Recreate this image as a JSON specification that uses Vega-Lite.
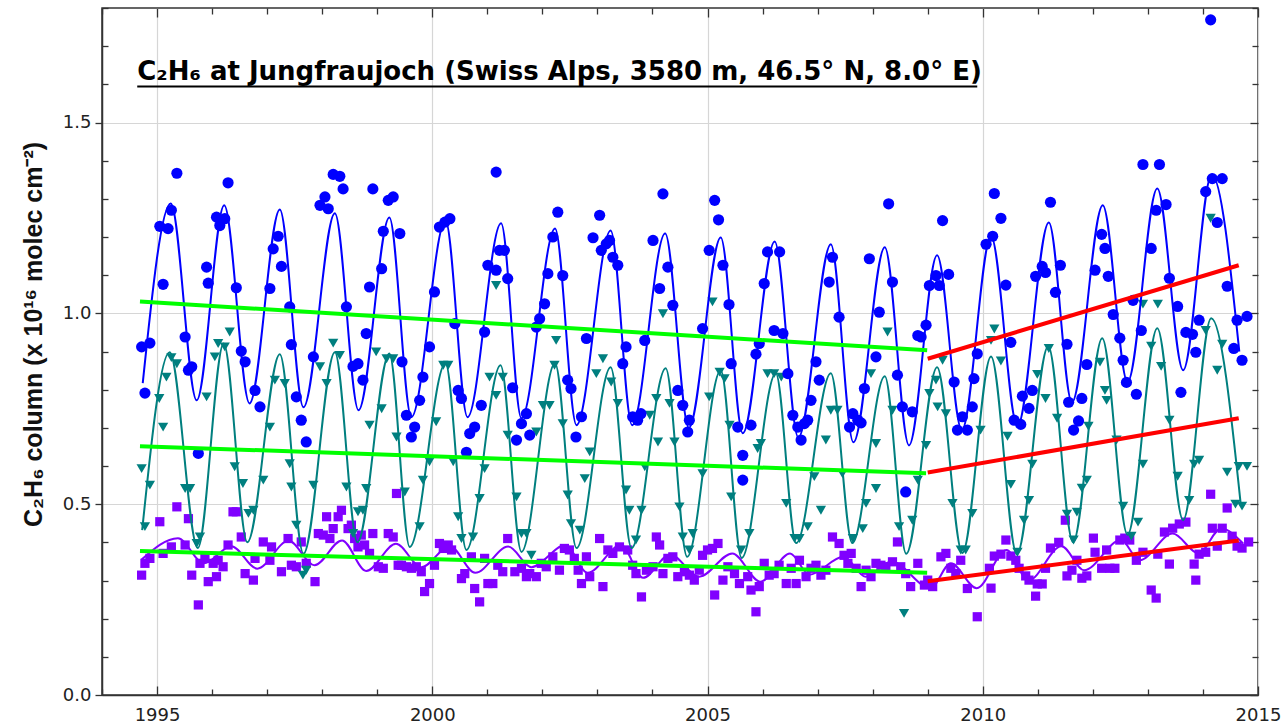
{
  "$schema": "https://vega.github.io/schema/vega-lite/v6.json",
  "width": 1156,
  "height": 687,
  "autosize": "none",
  "padding": {"left": 102, "top": 8, "right": 27, "bottom": 33},
  "background": "white",
  "config": {
    "view": {"stroke": "#333333", "strokeWidth": 1.5},
    "axis": {"labelFont": "DejaVu Sans", "labelFontSize": 18, "labelColor": "#222222", "tickColor": "#333333", "tickWidth": 1.3}
  },
  "datasets": {
    "points": [
      {"series":"Upper","year":1994.72,"value":0.314},{"series":"Upper","year":1994.78,"value":0.345},{"series":"Upper","year":1994.87,"value":0.358},{"series":"Upper","year":1995.05,"value":0.454},{"series":"Upper","year":1995.11,"value":0.371},{"series":"Upper","year":1995.26,"value":0.388},{"series":"Upper","year":1995.36,"value":0.493},{"series":"Upper","year":1995.51,"value":0.393},{"series":"Upper","year":1995.57,"value":0.462},{"series":"Upper","year":1995.63,"value":0.314},{"series":"Upper","year":1995.75,"value":0.236},{"series":"Upper","year":1995.78,"value":0.345},{"series":"Upper","year":1995.87,"value":0.358},{"series":"Upper","year":1995.93,"value":0.297},{"series":"Upper","year":1996.02,"value":0.345},{"series":"Upper","year":1996.08,"value":0.310},{"series":"Upper","year":1996.11,"value":0.353},{"series":"Upper","year":1996.20,"value":0.336},{"series":"Upper","year":1996.29,"value":0.393},{"series":"Upper","year":1996.38,"value":0.480},{"series":"Upper","year":1996.44,"value":0.480},{"series":"Upper","year":1996.53,"value":0.414},{"series":"Upper","year":1996.60,"value":0.318},{"series":"Upper","year":1996.75,"value":0.301},{"series":"Upper","year":1996.78,"value":0.358},{"series":"Upper","year":1996.93,"value":0.401},{"series":"Upper","year":1997.05,"value":0.353},{"series":"Upper","year":1997.08,"value":0.388},{"series":"Upper","year":1997.26,"value":0.323},{"series":"Upper","year":1997.38,"value":0.410},{"series":"Upper","year":1997.44,"value":0.340},{"series":"Upper","year":1997.53,"value":0.336},{"series":"Upper","year":1997.62,"value":0.401},{"series":"Upper","year":1997.71,"value":0.345},{"series":"Upper","year":1997.87,"value":0.297},{"series":"Upper","year":1997.93,"value":0.423},{"series":"Upper","year":1998.02,"value":0.419},{"series":"Upper","year":1998.08,"value":0.467},{"series":"Upper","year":1998.14,"value":0.410},{"series":"Upper","year":1998.20,"value":0.436},{"series":"Upper","year":1998.29,"value":0.467},{"series":"Upper","year":1998.35,"value":0.484},{"series":"Upper","year":1998.47,"value":0.436},{"series":"Upper","year":1998.53,"value":0.445},{"series":"Upper","year":1998.59,"value":0.410},{"series":"Upper","year":1998.65,"value":0.388},{"series":"Upper","year":1998.71,"value":0.419},{"series":"Upper","year":1998.77,"value":0.393},{"series":"Upper","year":1998.86,"value":0.371},{"series":"Upper","year":1998.92,"value":0.423},{"series":"Upper","year":1999.02,"value":0.336},{"series":"Upper","year":1999.11,"value":0.332},{"series":"Upper","year":1999.20,"value":0.423},{"series":"Upper","year":1999.29,"value":0.414},{"series":"Upper","year":1999.35,"value":0.528},{"series":"Upper","year":1999.38,"value":0.340},{"series":"Upper","year":1999.44,"value":0.340},{"series":"Upper","year":1999.53,"value":0.336},{"series":"Upper","year":1999.62,"value":0.332},{"series":"Upper","year":1999.71,"value":0.336},{"series":"Upper","year":1999.80,"value":0.323},{"series":"Upper","year":1999.86,"value":0.271},{"series":"Upper","year":1999.95,"value":0.292},{"series":"Upper","year":2000.04,"value":0.340},{"series":"Upper","year":2000.13,"value":0.397},{"series":"Upper","year":2000.20,"value":0.384},{"series":"Upper","year":2000.29,"value":0.393},{"series":"Upper","year":2000.35,"value":0.380},{"series":"Upper","year":2000.53,"value":0.305},{"series":"Upper","year":2000.59,"value":0.318},{"series":"Upper","year":2000.71,"value":0.362},{"series":"Upper","year":2000.77,"value":0.279},{"series":"Upper","year":2000.86,"value":0.244},{"series":"Upper","year":2000.95,"value":0.358},{"series":"Upper","year":2001.01,"value":0.292},{"series":"Upper","year":2001.10,"value":0.292},{"series":"Upper","year":2001.19,"value":0.340},{"series":"Upper","year":2001.28,"value":0.323},{"series":"Upper","year":2001.37,"value":0.410},{"series":"Upper","year":2001.50,"value":0.323},{"series":"Upper","year":2001.62,"value":0.332},{"series":"Upper","year":2001.71,"value":0.310},{"series":"Upper","year":2001.77,"value":0.318},{"series":"Upper","year":2001.89,"value":0.310},{"series":"Upper","year":2001.98,"value":0.345},{"series":"Upper","year":2002.07,"value":0.336},{"series":"Upper","year":2002.19,"value":0.362},{"series":"Upper","year":2002.31,"value":0.327},{"series":"Upper","year":2002.40,"value":0.384},{"series":"Upper","year":2002.49,"value":0.380},{"series":"Upper","year":2002.58,"value":0.358},{"series":"Upper","year":2002.65,"value":0.327},{"series":"Upper","year":2002.71,"value":0.292},{"series":"Upper","year":2002.80,"value":0.362},{"series":"Upper","year":2002.86,"value":0.310},{"series":"Upper","year":2003.04,"value":0.410},{"series":"Upper","year":2003.10,"value":0.284},{"series":"Upper","year":2003.19,"value":0.380},{"series":"Upper","year":2003.28,"value":0.371},{"series":"Upper","year":2003.40,"value":0.388},{"series":"Upper","year":2003.55,"value":0.380},{"series":"Upper","year":2003.64,"value":0.340},{"series":"Upper","year":2003.70,"value":0.318},{"series":"Upper","year":2003.80,"value":0.257},{"series":"Upper","year":2003.89,"value":0.327},{"series":"Upper","year":2004.01,"value":0.336},{"series":"Upper","year":2004.07,"value":0.414},{"series":"Upper","year":2004.13,"value":0.393},{"series":"Upper","year":2004.19,"value":0.318},{"series":"Upper","year":2004.28,"value":0.358},{"series":"Upper","year":2004.37,"value":0.362},{"series":"Upper","year":2004.46,"value":0.310},{"series":"Upper","year":2004.58,"value":0.323},{"series":"Upper","year":2004.67,"value":0.314},{"series":"Upper","year":2004.76,"value":0.301},{"series":"Upper","year":2004.85,"value":0.327},{"series":"Upper","year":2004.91,"value":0.366},{"series":"Upper","year":2005.00,"value":0.380},{"series":"Upper","year":2005.09,"value":0.384},{"series":"Upper","year":2005.13,"value":0.262},{"series":"Upper","year":2005.19,"value":0.397},{"series":"Upper","year":2005.28,"value":0.301},{"series":"Upper","year":2005.37,"value":0.336},{"series":"Upper","year":2005.49,"value":0.318},{"series":"Upper","year":2005.58,"value":0.292},{"series":"Upper","year":2005.73,"value":0.310},{"series":"Upper","year":2005.79,"value":0.275},{"series":"Upper","year":2005.88,"value":0.218},{"series":"Upper","year":2005.94,"value":0.284},{"series":"Upper","year":2006.03,"value":0.345},{"series":"Upper","year":2006.12,"value":0.314},{"series":"Upper","year":2006.21,"value":0.318},{"series":"Upper","year":2006.30,"value":0.340},{"series":"Upper","year":2006.43,"value":0.292},{"series":"Upper","year":2006.52,"value":0.332},{"series":"Upper","year":2006.61,"value":0.292},{"series":"Upper","year":2006.67,"value":0.353},{"series":"Upper","year":2006.79,"value":0.310},{"series":"Upper","year":2006.88,"value":0.332},{"series":"Upper","year":2006.97,"value":0.340},{"series":"Upper","year":2007.06,"value":0.314},{"series":"Upper","year":2007.15,"value":0.327},{"series":"Upper","year":2007.27,"value":0.414},{"series":"Upper","year":2007.39,"value":0.397},{"series":"Upper","year":2007.48,"value":0.366},{"series":"Upper","year":2007.55,"value":0.345},{"series":"Upper","year":2007.61,"value":0.371},{"series":"Upper","year":2007.70,"value":0.332},{"series":"Upper","year":2007.79,"value":0.284},{"series":"Upper","year":2007.88,"value":0.327},{"series":"Upper","year":2007.97,"value":0.310},{"series":"Upper","year":2008.06,"value":0.345},{"series":"Upper","year":2008.15,"value":0.340},{"series":"Upper","year":2008.24,"value":0.336},{"series":"Upper","year":2008.36,"value":0.349},{"series":"Upper","year":2008.45,"value":0.401},{"series":"Upper","year":2008.51,"value":0.336},{"series":"Upper","year":2008.60,"value":0.318},{"series":"Upper","year":2008.69,"value":0.284},{"series":"Upper","year":2008.82,"value":0.345},{"series":"Upper","year":2008.94,"value":0.288},{"series":"Upper","year":2009.00,"value":0.301},{"series":"Upper","year":2009.09,"value":0.284},{"series":"Upper","year":2009.24,"value":0.362},{"series":"Upper","year":2009.33,"value":0.371},{"series":"Upper","year":2009.42,"value":0.332},{"series":"Upper","year":2009.51,"value":0.318},{"series":"Upper","year":2009.60,"value":0.353},{"series":"Upper","year":2009.72,"value":0.279},{"series":"Upper","year":2009.90,"value":0.205},{"series":"Upper","year":2010.12,"value":0.332},{"series":"Upper","year":2010.15,"value":0.280},{"series":"Upper","year":2010.21,"value":0.364},{"series":"Upper","year":2010.33,"value":0.369},{"series":"Upper","year":2010.42,"value":0.406},{"series":"Upper","year":2010.51,"value":0.364},{"series":"Upper","year":2010.60,"value":0.353},{"series":"Upper","year":2010.66,"value":0.332},{"series":"Upper","year":2010.78,"value":0.312},{"series":"Upper","year":2010.84,"value":0.301},{"series":"Upper","year":2010.96,"value":0.259},{"series":"Upper","year":2010.99,"value":0.291},{"series":"Upper","year":2011.08,"value":0.291},{"series":"Upper","year":2011.14,"value":0.332},{"series":"Upper","year":2011.23,"value":0.385},{"series":"Upper","year":2011.38,"value":0.400},{"series":"Upper","year":2011.50,"value":0.458},{"series":"Upper","year":2011.53,"value":0.312},{"series":"Upper","year":2011.62,"value":0.327},{"series":"Upper","year":2011.71,"value":0.353},{"series":"Upper","year":2011.80,"value":0.306},{"series":"Upper","year":2011.89,"value":0.312},{"series":"Upper","year":2012.01,"value":0.411},{"series":"Upper","year":2012.04,"value":0.374},{"series":"Upper","year":2012.16,"value":0.332},{"series":"Upper","year":2012.25,"value":0.380},{"series":"Upper","year":2012.31,"value":0.332},{"series":"Upper","year":2012.40,"value":0.332},{"series":"Upper","year":2012.49,"value":0.406},{"series":"Upper","year":2012.58,"value":0.411},{"series":"Upper","year":2012.67,"value":0.406},{"series":"Upper","year":2012.79,"value":0.353},{"series":"Upper","year":2012.91,"value":0.374},{"series":"Upper","year":2013.06,"value":0.275},{"series":"Upper","year":2013.15,"value":0.254},{"series":"Upper","year":2013.18,"value":0.369},{"series":"Upper","year":2013.30,"value":0.427},{"series":"Upper","year":2013.39,"value":0.343},{"series":"Upper","year":2013.45,"value":0.437},{"series":"Upper","year":2013.57,"value":0.448},{"series":"Upper","year":2013.69,"value":0.453},{"series":"Upper","year":2013.84,"value":0.343},{"series":"Upper","year":2013.87,"value":0.301},{"series":"Upper","year":2013.93,"value":0.369},{"series":"Upper","year":2014.05,"value":0.374},{"series":"Upper","year":2014.14,"value":0.526},{"series":"Upper","year":2014.17,"value":0.437},{"series":"Upper","year":2014.26,"value":0.390},{"series":"Upper","year":2014.35,"value":0.437},{"series":"Upper","year":2014.44,"value":0.490},{"series":"Upper","year":2014.53,"value":0.416},{"series":"Upper","year":2014.62,"value":0.390},{"series":"Upper","year":2014.71,"value":0.385},{"series":"Upper","year":2014.83,"value":0.401},
      {"series":"Lower","year":1994.72,"value":0.593},{"series":"Lower","year":1994.87,"value":0.550},{"series":"Lower","year":1994.78,"value":0.441},{"series":"Lower","year":1995.04,"value":0.777},{"series":"Lower","year":1995.11,"value":0.702},{"series":"Lower","year":1995.17,"value":0.833},{"series":"Lower","year":1995.26,"value":0.884},{"series":"Lower","year":1995.36,"value":0.868},{"series":"Lower","year":1995.51,"value":0.541},{"series":"Lower","year":1995.60,"value":0.541},{"series":"Lower","year":1995.72,"value":0.397},{"series":"Lower","year":1995.78,"value":0.414},{"series":"Lower","year":1995.90,"value":0.781},{"series":"Lower","year":1996.05,"value":0.886},{"series":"Lower","year":1996.11,"value":0.921},{"series":"Lower","year":1996.23,"value":0.912},{"series":"Lower","year":1996.32,"value":0.951},{"series":"Lower","year":1996.41,"value":0.598},{"series":"Lower","year":1996.56,"value":0.554},{"series":"Lower","year":1996.66,"value":0.476},{"series":"Lower","year":1996.75,"value":0.484},{"series":"Lower","year":1996.93,"value":0.563},{"series":"Lower","year":1997.05,"value":0.702},{"series":"Lower","year":1997.14,"value":0.825},{"series":"Lower","year":1997.32,"value":0.816},{"series":"Lower","year":1997.41,"value":0.606},{"series":"Lower","year":1997.44,"value":0.545},{"series":"Lower","year":1997.53,"value":0.445},{"series":"Lower","year":1997.65,"value":0.314},{"series":"Lower","year":1997.71,"value":0.327},{"series":"Lower","year":1997.84,"value":0.550},{"series":"Lower","year":1997.96,"value":0.860},{"series":"Lower","year":1998.08,"value":0.816},{"series":"Lower","year":1998.20,"value":0.922},{"series":"Lower","year":1998.32,"value":0.890},{"series":"Lower","year":1998.44,"value":0.545},{"series":"Lower","year":1998.56,"value":0.423},{"series":"Lower","year":1998.65,"value":0.480},{"series":"Lower","year":1998.74,"value":0.484},{"series":"Lower","year":1998.80,"value":0.541},{"series":"Lower","year":1998.86,"value":0.707},{"series":"Lower","year":1998.98,"value":0.899},{"series":"Lower","year":1999.08,"value":0.750},{"series":"Lower","year":1999.17,"value":0.881},{"series":"Lower","year":1999.29,"value":0.881},{"series":"Lower","year":1999.35,"value":0.676},{"series":"Lower","year":1999.50,"value":0.532},{"series":"Lower","year":1999.77,"value":0.441},{"series":"Lower","year":1999.83,"value":0.563},{"series":"Lower","year":1999.95,"value":0.611},{"series":"Lower","year":2000.07,"value":0.716},{"series":"Lower","year":2000.20,"value":0.864},{"series":"Lower","year":2000.29,"value":0.864},{"series":"Lower","year":2000.38,"value":0.611},{"series":"Lower","year":2000.47,"value":0.467},{"series":"Lower","year":2000.53,"value":0.410},{"series":"Lower","year":2000.74,"value":0.414},{"series":"Lower","year":2000.86,"value":0.515},{"series":"Lower","year":2000.95,"value":0.593},{"series":"Lower","year":2001.04,"value":0.833},{"series":"Lower","year":2001.16,"value":0.785},{"series":"Lower","year":2001.16,"value":1.073},{"series":"Lower","year":2001.28,"value":0.833},{"series":"Lower","year":2001.37,"value":0.681},{"series":"Lower","year":2001.53,"value":0.519},{"series":"Lower","year":2001.62,"value":0.423},{"series":"Lower","year":2001.71,"value":0.423},{"series":"Lower","year":2001.80,"value":0.366},{"series":"Lower","year":2001.89,"value":0.689},{"series":"Lower","year":2002.01,"value":0.759},{"series":"Lower","year":2002.13,"value":0.759},{"series":"Lower","year":2002.22,"value":0.864},{"series":"Lower","year":2002.25,"value":0.929},{"series":"Lower","year":2002.37,"value":0.711},{"series":"Lower","year":2002.46,"value":0.524},{"series":"Lower","year":2002.52,"value":0.449},{"series":"Lower","year":2002.68,"value":0.432},{"series":"Lower","year":2002.77,"value":0.567},{"series":"Lower","year":2002.86,"value":0.637},{"series":"Lower","year":2002.98,"value":0.842},{"series":"Lower","year":2003.10,"value":0.881},{"series":"Lower","year":2003.25,"value":0.820},{"series":"Lower","year":2003.37,"value":0.764},{"series":"Lower","year":2003.52,"value":0.537},{"series":"Lower","year":2003.58,"value":0.484},{"series":"Lower","year":2003.70,"value":0.406},{"series":"Lower","year":2003.80,"value":0.484},{"series":"Lower","year":2003.86,"value":0.598},{"series":"Lower","year":2003.95,"value":0.733},{"series":"Lower","year":2004.07,"value":0.777},{"series":"Lower","year":2004.10,"value":0.663},{"series":"Lower","year":2004.19,"value":0.999},{"series":"Lower","year":2004.31,"value":0.764},{"series":"Lower","year":2004.40,"value":0.663},{"series":"Lower","year":2004.49,"value":0.493},{"series":"Lower","year":2004.55,"value":0.414},{"series":"Lower","year":2004.67,"value":0.380},{"series":"Lower","year":2004.73,"value":0.423},{"series":"Lower","year":2004.91,"value":0.580},{"series":"Lower","year":2005.03,"value":0.781},{"series":"Lower","year":2005.09,"value":1.030},{"series":"Lower","year":2005.22,"value":0.846},{"series":"Lower","year":2005.31,"value":0.829},{"series":"Lower","year":2005.40,"value":0.707},{"series":"Lower","year":2005.43,"value":0.519},{"series":"Lower","year":2005.61,"value":0.380},{"series":"Lower","year":2005.76,"value":0.423},{"series":"Lower","year":2005.91,"value":0.646},{"series":"Lower","year":2005.97,"value":0.659},{"series":"Lower","year":2006.09,"value":0.842},{"series":"Lower","year":2006.21,"value":0.842},{"series":"Lower","year":2006.34,"value":0.833},{"series":"Lower","year":2006.43,"value":0.502},{"series":"Lower","year":2006.58,"value":0.410},{"series":"Lower","year":2006.67,"value":0.410},{"series":"Lower","year":2006.82,"value":0.441},{"series":"Lower","year":2006.94,"value":0.572},{"series":"Lower","year":2007.06,"value":0.484},{"series":"Lower","year":2007.15,"value":0.668},{"series":"Lower","year":2007.24,"value":0.746},{"series":"Lower","year":2007.36,"value":0.746},{"series":"Lower","year":2007.45,"value":0.580},{"series":"Lower","year":2007.64,"value":0.410},{"series":"Lower","year":2007.82,"value":0.436},{"series":"Lower","year":2007.88,"value":0.502},{"series":"Lower","year":2007.97,"value":0.842},{"series":"Lower","year":2008.06,"value":0.659},{"series":"Lower","year":2008.06,"value":0.541},{"series":"Lower","year":2008.27,"value":0.951},{"series":"Lower","year":2008.36,"value":0.746},{"series":"Lower","year":2008.48,"value":0.441},{"series":"Lower","year":2008.57,"value":0.214},{"series":"Lower","year":2008.72,"value":0.458},{"series":"Lower","year":2008.82,"value":0.563},{"series":"Lower","year":2008.97,"value":0.654},{"series":"Lower","year":2009.03,"value":0.790},{"series":"Lower","year":2009.15,"value":0.825},{"series":"Lower","year":2009.18,"value":0.755},{"series":"Lower","year":2009.27,"value":0.877},{"series":"Lower","year":2009.33,"value":0.737},{"series":"Lower","year":2009.45,"value":0.502},{"series":"Lower","year":2009.60,"value":0.380},{"series":"Lower","year":2009.69,"value":0.380},{"series":"Lower","year":2009.81,"value":0.476},{"series":"Lower","year":2009.96,"value":0.694},{"series":"Lower","year":2010.15,"value":0.929},{"series":"Lower","year":2010.21,"value":0.959},{"series":"Lower","year":2010.33,"value":0.875},{"series":"Lower","year":2010.45,"value":0.678},{"series":"Lower","year":2010.51,"value":0.552},{"series":"Lower","year":2010.63,"value":0.374},{"series":"Lower","year":2010.75,"value":0.458},{"series":"Lower","year":2010.84,"value":0.510},{"series":"Lower","year":2010.90,"value":0.605},{"series":"Lower","year":2010.99,"value":0.840},{"series":"Lower","year":2011.14,"value":0.777},{"series":"Lower","year":2011.20,"value":0.908},{"series":"Lower","year":2011.35,"value":0.725},{"series":"Lower","year":2011.53,"value":0.474},{"series":"Lower","year":2011.65,"value":0.406},{"series":"Lower","year":2011.71,"value":0.479},{"series":"Lower","year":2011.80,"value":0.542},{"series":"Lower","year":2011.89,"value":0.563},{"series":"Lower","year":2011.92,"value":0.704},{"series":"Lower","year":2012.13,"value":0.872},{"series":"Lower","year":2012.22,"value":0.798},{"series":"Lower","year":2012.25,"value":0.772},{"series":"Lower","year":2012.43,"value":0.668},{"series":"Lower","year":2012.55,"value":0.495},{"series":"Lower","year":2012.70,"value":0.416},{"series":"Lower","year":2012.82,"value":0.453},{"series":"Lower","year":2012.91,"value":0.605},{"series":"Lower","year":2012.91,"value":1.024},{"series":"Lower","year":2013.06,"value":0.914},{"series":"Lower","year":2013.18,"value":1.024},{"series":"Lower","year":2013.24,"value":0.861},{"series":"Lower","year":2013.39,"value":0.720},{"series":"Lower","year":2013.54,"value":0.573},{"series":"Lower","year":2013.75,"value":0.510},{"series":"Lower","year":2013.84,"value":0.605},{"series":"Lower","year":2013.93,"value":0.615},{"series":"Lower","year":2014.05,"value":0.955},{"series":"Lower","year":2014.14,"value":1.249},{"series":"Lower","year":2014.26,"value":0.851},{"series":"Lower","year":2014.35,"value":0.919},{"series":"Lower","year":2014.44,"value":0.584},{"series":"Lower","year":2014.59,"value":0.500},{"series":"Lower","year":2014.65,"value":0.599},{"series":"Lower","year":2014.71,"value":0.495},{"series":"Lower","year":2014.80,"value":0.599},
      {"series":"Total","year":1994.72,"value":0.912},{"series":"Total","year":1994.87,"value":0.922},{"series":"Total","year":1994.78,"value":0.791},{"series":"Total","year":1995.05,"value":1.228},{"series":"Total","year":1995.20,"value":1.222},{"series":"Total","year":1995.11,"value":1.076},{"series":"Total","year":1995.26,"value":1.270},{"series":"Total","year":1995.36,"value":1.367},{"series":"Total","year":1995.51,"value":0.938},{"series":"Total","year":1995.57,"value":0.851},{"series":"Total","year":1995.63,"value":0.860},{"series":"Total","year":1995.75,"value":0.633},{"series":"Total","year":1995.90,"value":1.121},{"series":"Total","year":1995.93,"value":1.079},{"series":"Total","year":1996.08,"value":1.252},{"series":"Total","year":1996.14,"value":1.230},{"series":"Total","year":1996.23,"value":1.248},{"series":"Total","year":1996.29,"value":1.342},{"series":"Total","year":1996.44,"value":1.067},{"series":"Total","year":1996.53,"value":0.901},{"series":"Total","year":1996.60,"value":0.873},{"series":"Total","year":1996.78,"value":0.798},{"series":"Total","year":1996.87,"value":0.755},{"series":"Total","year":1997.05,"value":1.065},{"series":"Total","year":1997.11,"value":1.169},{"series":"Total","year":1997.20,"value":1.202},{"series":"Total","year":1997.26,"value":1.123},{"series":"Total","year":1997.41,"value":1.017},{"series":"Total","year":1997.44,"value":0.918},{"series":"Total","year":1997.53,"value":0.781},{"series":"Total","year":1997.62,"value":0.720},{"series":"Total","year":1997.71,"value":0.663},{"series":"Total","year":1997.84,"value":0.886},{"series":"Total","year":1997.96,"value":1.283},{"series":"Total","year":1998.05,"value":1.305},{"series":"Total","year":1998.11,"value":1.274},{"series":"Total","year":1998.20,"value":1.364},{"series":"Total","year":1998.32,"value":1.359},{"series":"Total","year":1998.38,"value":1.326},{"series":"Total","year":1998.44,"value":1.017},{"series":"Total","year":1998.56,"value":0.861},{"series":"Total","year":1998.65,"value":0.868},{"series":"Total","year":1998.74,"value":0.825},{"series":"Total","year":1998.80,"value":0.947},{"series":"Total","year":1998.86,"value":1.069},{"series":"Total","year":1998.92,"value":1.326},{"series":"Total","year":1999.08,"value":1.117},{"series":"Total","year":1999.11,"value":1.215},{"series":"Total","year":1999.20,"value":1.296},{"series":"Total","year":1999.29,"value":1.305},{"series":"Total","year":1999.41,"value":1.209},{"series":"Total","year":1999.45,"value":0.873},{"series":"Total","year":1999.53,"value":0.733},{"series":"Total","year":1999.62,"value":0.676},{"series":"Total","year":1999.68,"value":0.702},{"series":"Total","year":1999.77,"value":0.772},{"series":"Total","year":1999.83,"value":0.833},{"series":"Total","year":1999.95,"value":0.912},{"series":"Total","year":2000.04,"value":1.056},{"series":"Total","year":2000.13,"value":1.226},{"series":"Total","year":2000.23,"value":1.239},{"series":"Total","year":2000.32,"value":1.248},{"series":"Total","year":2000.41,"value":0.973},{"series":"Total","year":2000.47,"value":0.798},{"series":"Total","year":2000.53,"value":0.777},{"series":"Total","year":2000.62,"value":0.636},{"series":"Total","year":2000.68,"value":0.685},{"series":"Total","year":2000.77,"value":0.702},{"series":"Total","year":2000.89,"value":0.759},{"series":"Total","year":2000.95,"value":0.951},{"series":"Total","year":2001.01,"value":1.126},{"series":"Total","year":2001.16,"value":1.370},{"series":"Total","year":2001.16,"value":1.113},{"series":"Total","year":2001.22,"value":1.165},{"series":"Total","year":2001.31,"value":1.165},{"series":"Total","year":2001.37,"value":1.091},{"series":"Total","year":2001.46,"value":0.805},{"series":"Total","year":2001.53,"value":0.668},{"series":"Total","year":2001.62,"value":0.711},{"series":"Total","year":2001.71,"value":0.737},{"series":"Total","year":2001.77,"value":0.681},{"series":"Total","year":2001.89,"value":0.964},{"series":"Total","year":2001.95,"value":0.986},{"series":"Total","year":2002.04,"value":1.025},{"series":"Total","year":2002.10,"value":1.104},{"series":"Total","year":2002.19,"value":1.200},{"series":"Total","year":2002.28,"value":1.265},{"series":"Total","year":2002.37,"value":1.099},{"series":"Total","year":2002.46,"value":0.825},{"series":"Total","year":2002.52,"value":0.803},{"series":"Total","year":2002.61,"value":0.676},{"series":"Total","year":2002.71,"value":0.729},{"series":"Total","year":2002.80,"value":0.934},{"series":"Total","year":2002.92,"value":1.198},{"series":"Total","year":2003.04,"value":1.257},{"series":"Total","year":2003.07,"value":1.165},{"series":"Total","year":2003.16,"value":1.182},{"series":"Total","year":2003.22,"value":1.191},{"series":"Total","year":2003.28,"value":1.147},{"series":"Total","year":2003.37,"value":1.126},{"series":"Total","year":2003.46,"value":0.868},{"series":"Total","year":2003.52,"value":0.912},{"series":"Total","year":2003.64,"value":0.729},{"series":"Total","year":2003.73,"value":0.720},{"series":"Total","year":2003.79,"value":0.737},{"series":"Total","year":2003.86,"value":0.929},{"series":"Total","year":2004.01,"value":1.191},{"series":"Total","year":2004.13,"value":1.065},{"series":"Total","year":2004.19,"value":1.313},{"series":"Total","year":2004.28,"value":1.121},{"series":"Total","year":2004.37,"value":1.021},{"series":"Total","year":2004.46,"value":0.798},{"series":"Total","year":2004.55,"value":0.759},{"series":"Total","year":2004.64,"value":0.689},{"series":"Total","year":2004.67,"value":0.720},{"series":"Total","year":2004.91,"value":0.960},{"series":"Total","year":2005.03,"value":1.165},{"series":"Total","year":2005.13,"value":1.296},{"series":"Total","year":2005.20,"value":1.245},{"series":"Total","year":2005.28,"value":1.126},{"series":"Total","year":2005.39,"value":1.023},{"series":"Total","year":2005.43,"value":0.868},{"series":"Total","year":2005.55,"value":0.702},{"series":"Total","year":2005.64,"value":0.628},{"series":"Total","year":2005.64,"value":0.563},{"series":"Total","year":2005.79,"value":0.707},{"series":"Total","year":2005.88,"value":0.893},{"series":"Total","year":2005.94,"value":0.921},{"series":"Total","year":2006.03,"value":1.078},{"series":"Total","year":2006.09,"value":1.161},{"series":"Total","year":2006.31,"value":1.161},{"series":"Total","year":2006.21,"value":0.955},{"series":"Total","year":2006.37,"value":0.947},{"series":"Total","year":2006.46,"value":0.842},{"series":"Total","year":2006.55,"value":0.733},{"series":"Total","year":2006.64,"value":0.702},{"series":"Total","year":2006.70,"value":0.668},{"series":"Total","year":2006.76,"value":0.711},{"series":"Total","year":2006.82,"value":0.720},{"series":"Total","year":2006.88,"value":0.772},{"series":"Total","year":2006.97,"value":0.873},{"series":"Total","year":2007.03,"value":0.825},{"series":"Total","year":2007.21,"value":1.082},{"series":"Total","year":2007.27,"value":1.147},{"series":"Total","year":2007.39,"value":0.990},{"series":"Total","year":2007.58,"value":0.702},{"series":"Total","year":2007.64,"value":0.737},{"series":"Total","year":2007.73,"value":0.720},{"series":"Total","year":2007.79,"value":0.713},{"series":"Total","year":2007.85,"value":0.803},{"series":"Total","year":2007.94,"value":1.143},{"series":"Total","year":2008.06,"value":0.886},{"series":"Total","year":2008.12,"value":1.003},{"series":"Total","year":2008.29,"value":1.287},{"series":"Total","year":2008.36,"value":1.082},{"series":"Total","year":2008.45,"value":0.838},{"series":"Total","year":2008.54,"value":0.755},{"series":"Total","year":2008.60,"value":0.532},{"series":"Total","year":2008.72,"value":0.742},{"series":"Total","year":2008.82,"value":0.942},{"series":"Total","year":2008.88,"value":0.938},{"series":"Total","year":2008.97,"value":0.969},{"series":"Total","year":2009.03,"value":1.073},{"series":"Total","year":2009.15,"value":1.099},{"series":"Total","year":2009.21,"value":1.073},{"series":"Total","year":2009.27,"value":1.243},{"series":"Total","year":2009.38,"value":1.102},{"series":"Total","year":2009.48,"value":0.820},{"series":"Total","year":2009.54,"value":0.694},{"series":"Total","year":2009.63,"value":0.729},{"series":"Total","year":2009.72,"value":0.694},{"series":"Total","year":2009.81,"value":0.755},{"series":"Total","year":2009.84,"value":0.829},{"series":"Total","year":2009.90,"value":0.894},{"series":"Total","year":2010.06,"value":1.181},{"series":"Total","year":2010.18,"value":1.202},{"series":"Total","year":2010.21,"value":1.314},{"series":"Total","year":2010.33,"value":1.249},{"series":"Total","year":2010.42,"value":1.074},{"series":"Total","year":2010.51,"value":0.924},{"series":"Total","year":2010.57,"value":0.720},{"series":"Total","year":2010.69,"value":0.709},{"series":"Total","year":2010.72,"value":0.783},{"series":"Total","year":2010.84,"value":0.751},{"series":"Total","year":2010.90,"value":0.798},{"series":"Total","year":2010.96,"value":1.097},{"series":"Total","year":2011.08,"value":1.123},{"series":"Total","year":2011.14,"value":1.107},{"series":"Total","year":2011.23,"value":1.291},{"series":"Total","year":2011.32,"value":1.055},{"series":"Total","year":2011.41,"value":1.126},{"series":"Total","year":2011.53,"value":0.919},{"series":"Total","year":2011.56,"value":0.767},{"series":"Total","year":2011.65,"value":0.694},{"series":"Total","year":2011.74,"value":0.718},{"series":"Total","year":2011.80,"value":0.777},{"series":"Total","year":2011.89,"value":0.866},{"series":"Total","year":2012.04,"value":1.113},{"series":"Total","year":2012.16,"value":1.207},{"series":"Total","year":2012.22,"value":1.170},{"series":"Total","year":2012.28,"value":1.097},{"series":"Total","year":2012.37,"value":0.997},{"series":"Total","year":2012.49,"value":0.935},{"series":"Total","year":2012.55,"value":0.877},{"series":"Total","year":2012.61,"value":0.819},{"series":"Total","year":2012.73,"value":1.034},{"series":"Total","year":2012.79,"value":0.788},{"series":"Total","year":2012.88,"value":0.955},{"series":"Total","year":2012.91,"value":1.390},{"series":"Total","year":2013.06,"value":1.170},{"series":"Total","year":2013.15,"value":1.270},{"series":"Total","year":2013.21,"value":1.390},{"series":"Total","year":2013.33,"value":1.285},{"series":"Total","year":2013.39,"value":1.092},{"series":"Total","year":2013.54,"value":1.018},{"series":"Total","year":2013.60,"value":0.793},{"series":"Total","year":2013.69,"value":0.950},{"series":"Total","year":2013.81,"value":0.945},{"series":"Total","year":2013.87,"value":0.898},{"series":"Total","year":2013.93,"value":0.982},{"series":"Total","year":2014.05,"value":1.319},{"series":"Total","year":2014.14,"value":1.769},{"series":"Total","year":2014.17,"value":1.353},{"series":"Total","year":2014.35,"value":1.353},{"series":"Total","year":2014.26,"value":1.238},{"series":"Total","year":2014.44,"value":1.071},{"series":"Total","year":2014.56,"value":0.908},{"series":"Total","year":2014.62,"value":0.982},{"series":"Total","year":2014.71,"value":0.877},{"series":"Total","year":2014.80,"value":0.992}
    ],
    "curves": [
      {"series":"Total","year":1994.74,"value":0.817},{"series":"Total","year":1995.25,"value":1.288},{"series":"Total","year":1995.72,"value":0.772},{"series":"Total","year":1996.22,"value":1.283},{"series":"Total","year":1996.68,"value":0.764},{"series":"Total","year":1997.23,"value":1.272},{"series":"Total","year":1997.66,"value":0.754},{"series":"Total","year":1998.23,"value":1.262},{"series":"Total","year":1998.66,"value":0.746},{"series":"Total","year":1999.22,"value":1.251},{"series":"Total","year":1999.62,"value":0.728},{"series":"Total","year":2000.24,"value":1.243},{"series":"Total","year":2000.64,"value":0.728},{"series":"Total","year":2001.25,"value":1.236},{"series":"Total","year":2001.62,"value":0.725},{"series":"Total","year":2002.23,"value":1.222},{"series":"Total","year":2002.62,"value":0.707},{"series":"Total","year":2003.24,"value":1.217},{"series":"Total","year":2003.63,"value":0.707},{"series":"Total","year":2004.23,"value":1.209},{"series":"Total","year":2004.66,"value":0.700},{"series":"Total","year":2005.24,"value":1.199},{"series":"Total","year":2005.64,"value":0.686},{"series":"Total","year":2006.22,"value":1.188},{"series":"Total","year":2006.65,"value":0.675},{"series":"Total","year":2007.24,"value":1.181},{"series":"Total","year":2007.65,"value":0.662},{"series":"Total","year":2008.22,"value":1.173},{"series":"Total","year":2008.66,"value":0.654},{"series":"Total","year":2009.17,"value":1.152},{"series":"Total","year":2009.62,"value":0.694},{"series":"Total","year":2010.15,"value":1.202},{"series":"Total","year":2010.63,"value":0.704},{"series":"Total","year":2011.20,"value":1.238},{"series":"Total","year":2011.62,"value":0.767},{"series":"Total","year":2012.18,"value":1.283},{"series":"Total","year":2012.63,"value":0.820},{"series":"Total","year":2013.17,"value":1.327},{"series":"Total","year":2013.64,"value":0.851},{"series":"Total","year":2014.16,"value":1.364},{"series":"Total","year":2014.66,"value":0.900},
      {"series":"Lower","year":1994.73,"value":0.432},{"series":"Lower","year":1995.23,"value":0.898},{"series":"Lower","year":1995.74,"value":0.385},{"series":"Lower","year":1996.21,"value":0.921},{"series":"Lower","year":1996.64,"value":0.400},{"series":"Lower","year":1997.23,"value":0.893},{"series":"Lower","year":1997.66,"value":0.370},{"series":"Lower","year":1998.23,"value":0.898},{"series":"Lower","year":1998.64,"value":0.400},{"series":"Lower","year":1999.22,"value":0.895},{"series":"Lower","year":1999.59,"value":0.388},{"series":"Lower","year":2000.24,"value":0.869},{"series":"Lower","year":2000.62,"value":0.380},{"series":"Lower","year":2001.24,"value":0.864},{"series":"Lower","year":2001.62,"value":0.375},{"series":"Lower","year":2002.23,"value":0.869},{"series":"Lower","year":2002.62,"value":0.385},{"series":"Lower","year":2003.24,"value":0.859},{"series":"Lower","year":2003.62,"value":0.385},{"series":"Lower","year":2004.24,"value":0.856},{"series":"Lower","year":2004.63,"value":0.362},{"series":"Lower","year":2005.24,"value":0.851},{"series":"Lower","year":2005.62,"value":0.359},{"series":"Lower","year":2006.24,"value":0.843},{"series":"Lower","year":2006.61,"value":0.398},{"series":"Lower","year":2007.24,"value":0.843},{"series":"Lower","year":2007.63,"value":0.398},{"series":"Lower","year":2008.22,"value":0.835},{"series":"Lower","year":2008.61,"value":0.370},{"series":"Lower","year":2009.17,"value":0.859},{"series":"Lower","year":2009.63,"value":0.372},{"series":"Lower","year":2010.15,"value":0.887},{"series":"Lower","year":2010.62,"value":0.369},{"series":"Lower","year":2011.19,"value":0.914},{"series":"Lower","year":2011.64,"value":0.400},{"series":"Lower","year":2012.17,"value":0.935},{"series":"Lower","year":2012.63,"value":0.420},{"series":"Lower","year":2013.17,"value":0.961},{"series":"Lower","year":2013.64,"value":0.458},{"series":"Lower","year":2014.15,"value":0.987},{"series":"Lower","year":2014.69,"value":0.495},
      {"series":"Upper","year":1994.72,"value":0.355},{"series":"Upper","year":1995.38,"value":0.411},{"series":"Upper","year":1995.85,"value":0.345},{"series":"Upper","year":1996.35,"value":0.390},{"series":"Upper","year":1996.82,"value":0.331},{"series":"Upper","year":1997.39,"value":0.404},{"series":"Upper","year":1997.86,"value":0.340},{"series":"Upper","year":1998.36,"value":0.405},{"series":"Upper","year":1998.80,"value":0.325},{"series":"Upper","year":1999.34,"value":0.396},{"series":"Upper","year":1999.80,"value":0.335},{"series":"Upper","year":2000.32,"value":0.390},{"series":"Upper","year":2000.78,"value":0.320},{"series":"Upper","year":2001.38,"value":0.389},{"series":"Upper","year":2001.80,"value":0.335},{"series":"Upper","year":2002.42,"value":0.393},{"series":"Upper","year":2002.82,"value":0.320},{"series":"Upper","year":2003.43,"value":0.393},{"series":"Upper","year":2003.83,"value":0.307},{"series":"Upper","year":2004.32,"value":0.368},{"series":"Upper","year":2004.85,"value":0.310},{"series":"Upper","year":2005.45,"value":0.371},{"series":"Upper","year":2005.96,"value":0.297},{"series":"Upper","year":2006.50,"value":0.371},{"series":"Upper","year":2006.85,"value":0.315},{"series":"Upper","year":2007.47,"value":0.362},{"series":"Upper","year":2007.87,"value":0.310},{"series":"Upper","year":2008.34,"value":0.350},{"series":"Upper","year":2009.05,"value":0.280},{"series":"Upper","year":2009.42,"value":0.345},{"series":"Upper","year":2009.89,"value":0.280},{"series":"Upper","year":2010.43,"value":0.380},{"series":"Upper","year":2010.83,"value":0.300},{"series":"Upper","year":2011.43,"value":0.390},{"series":"Upper","year":2011.84,"value":0.327},{"series":"Upper","year":2012.51,"value":0.406},{"series":"Upper","year":2012.85,"value":0.353},{"series":"Upper","year":2013.45,"value":0.423},{"series":"Upper","year":2013.92,"value":0.371},{"series":"Upper","year":2014.33,"value":0.436},{"series":"Upper","year":2014.73,"value":0.397}
    ],
    "trends": [
      {"series":"Total","period":"1995-2008","year":1994.69,"value":1.031},{"series":"Total","period":"1995-2008","year":2008.99,"value":0.903},
      {"series":"Total","period":"2009-2014","year":2009.0,"value":0.881},{"series":"Total","period":"2009-2014","year":2014.65,"value":1.126},
      {"series":"Lower","period":"1995-2008","year":1994.69,"value":0.652},{"series":"Lower","period":"1995-2008","year":2008.97,"value":0.581},
      {"series":"Lower","period":"2009-2014","year":2009.0,"value":0.583},{"series":"Lower","period":"2009-2014","year":2014.65,"value":0.725},
      {"series":"Upper","period":"1995-2008","year":1994.69,"value":0.377},{"series":"Upper","period":"1995-2008","year":2008.99,"value":0.320},
      {"series":"Upper","period":"2009-2014","year":2009.0,"value":0.298},{"series":"Upper","period":"2009-2014","year":2014.65,"value":0.405}
    ]
  },
  "resolve": {"axis": {"x": "independent", "y": "independent"}},
  "layer": [
    {
      "data": {"name": "points"},
      "mark": {"type": "point", "filled": true, "opacity": 1, "strokeWidth": 0},
      "encoding": {
        "x": {"field": "year", "type": "quantitative", "scale": {"domain": [1994, 2015], "nice": false, "zero": false},
          "axis": {"orient": "bottom", "title": null,
            "values": [1994,1995,1996,1997,1998,1999,2000,2001,2002,2003,2004,2005,2006,2007,2008,2009,2010,2011,2012,2013,2014,2015],
            "format": "d", "labelExpr": "datum.value % 5 === 0 ? datum.label : ''", "labelOverlap": false, "labelFlush": false, "labelBound": false,
            "labelPadding": 20,
            "tickSize": {"condition": {"test": "datum.value % 5 === 0", "value": -9}, "value": -6},
            "grid": true, "gridWidth": 1.2,
            "gridColor": {"condition": {"test": "datum.value % 5 === 0", "value": "#d6d6d6"}, "value": "rgba(255,255,255,0)"},
            "domainColor": "#333333", "domainWidth": 1.5}},
        "y": {"field": "value", "type": "quantitative", "scale": {"domain": [0, 1.8], "nice": false, "zero": true},
          "axis": {"orient": "left",
            "values": [0,0.1,0.2,0.3,0.4,0.5,0.6,0.7,0.8,0.9,1.0,1.1,1.2,1.3,1.4,1.5,1.6,1.7,1.8],
            "format": ".1f", "labelExpr": "abs(datum.value*2 - round(datum.value*2)) < 0.0001 ? datum.label : ''", "labelOverlap": false, "labelFlush": false, "labelBound": false,
            "labelPadding": 4,
            "tickSize": {"condition": {"test": "abs(datum.value*2 - round(datum.value*2)) < 0.0001", "value": 7}, "value": -6},
            "grid": true, "gridWidth": 1.2,
            "gridColor": {"condition": {"test": "abs(datum.value*2 - round(datum.value*2)) < 0.0001 && datum.value > 0.01", "value": "#d6d6d6"}, "value": "rgba(255,255,255,0)"},
            "domainColor": "#333333", "domainWidth": 1.5,
            "title": "C₂H₆ column (x 10¹⁶ molec cm⁻²)", "titleFont": "Liberation Sans", "titleFontSize": 25, "titleFontWeight": "bold", "titleColor": "#111111",
            "titlePadding": 16, "titleY": 326}},
        "color": {"field": "series", "type": "nominal", "scale": {"domain": ["Total", "Lower", "Upper"], "range": ["#0000ff", "#007f7f", "#8000ff"]}, "legend": null},
        "shape": {"field": "series", "type": "nominal", "scale": {"domain": ["Total", "Lower", "Upper"], "range": ["circle", "triangle-down", "square"]}, "legend": null},
        "size": {"field": "series", "type": "nominal", "scale": {"domain": ["Total", "Lower", "Upper"], "range": [125, 85, 100]}, "legend": null}
      }
    },
    {
      "data": {"name": "curves"},
      "mark": {"type": "line", "interpolate": "monotone", "strokeWidth": 2},
      "encoding": {
        "x": {"field": "year", "type": "quantitative", "axis": null},
        "y": {"field": "value", "type": "quantitative", "axis": null},
        "color": {"field": "series", "type": "nominal", "legend": null}
      }
    },
    {
      "data": {"name": "trends"},
      "mark": {"type": "line", "strokeWidth": 4, "strokeCap": "butt"},
      "encoding": {
        "x": {"field": "year", "type": "quantitative", "axis": null},
        "y": {"field": "value", "type": "quantitative", "axis": null},
        "detail": {"field": "series", "type": "nominal"},
        "stroke": {"field": "period", "type": "nominal", "scale": {"domain": ["1995-2008", "2009-2014"], "range": ["#00ff00", "#ff0000"]}, "legend": null}
      }
    },
    {
      "data": {"values": [{}]},
      "mark": {"type": "text", "font": "DejaVu Sans", "fontSize": 26, "fontWeight": "bold", "align": "left", "baseline": "alphabetic", "color": "#000000"},
      "encoding": {
        "x": {"datum": 1994.64, "type": "quantitative", "axis": null},
        "y": {"datum": 1.611, "type": "quantitative", "axis": null},
        "text": {"value": "C₂H₆ at Jungfraujoch (Swiss Alps, 3580 m, 46.5° N, 8.0° E)"}
      }
    },
    {
      "data": {"values": [{}]},
      "mark": {"type": "rule", "strokeWidth": 2, "color": "#000000"},
      "encoding": {
        "x": {"datum": 1994.64, "type": "quantitative", "axis": null},
        "x2": {"datum": 2009.9},
        "y": {"datum": 1.594, "type": "quantitative", "axis": null}
      }
    },
    {
      "data": {"name": "trends"},
      "mark": {"type": "point", "opacity": 0},
      "encoding": {
        "x": {"field": "year", "type": "quantitative",
          "axis": {"orient": "top", "title": null, "labels": false, "grid": false, "domain": false,
            "values": [1994,1995,1996,1997,1998,1999,2000,2001,2002,2003,2004,2005,2006,2007,2008,2009,2010,2011,2012,2013,2014,2015],
            "tickSize": {"condition": {"test": "datum.value % 5 === 0", "value": -9}, "value": -6}}},
        "y": {"field": "value", "type": "quantitative",
          "axis": {"orient": "right", "title": null, "labels": false, "grid": false, "domain": false,
            "values": [0,0.1,0.2,0.3,0.4,0.5,0.6,0.7,0.8,0.9,1.0,1.1,1.2,1.3,1.4,1.5,1.6,1.7,1.8],
            "tickSize": {"condition": {"test": "abs(datum.value*2 - round(datum.value*2)) < 0.0001", "value": -8}, "value": -6}}}
      }
    }
  ]
}
